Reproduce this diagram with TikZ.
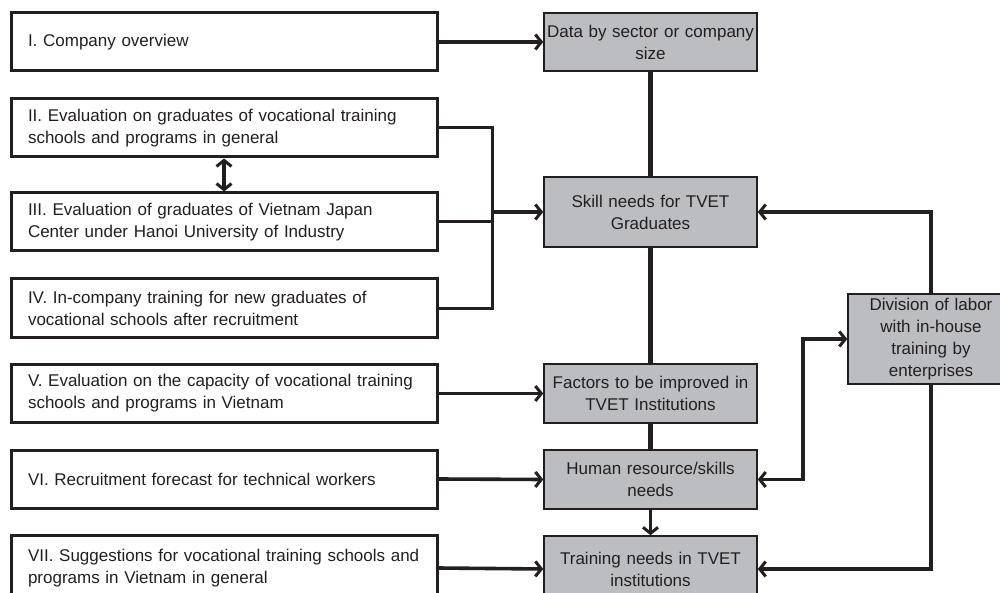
\documentclass[tikz,border=0pt]{standalone}
\usepackage{fontspec}
\setmainfont{Liberation Sans}
\usetikzlibrary{arrows.meta,calc}
\definecolor{ink}{HTML}{231F20}
\definecolor{boxgray}{HTML}{BCBDC0}
\begin{document}
\begin{tikzpicture}[x=1pt,y=-1pt,
  every node/.style={font=\fontsize{17}{22}\selectfont, text=ink},
  wbox/.style={draw=ink, line width=3pt, fill=white, minimum width=426, minimum height=58,
    text width=392, inner xsep=17, inner ysep=0, align=left},
  gbox/.style={draw=ink, line width=1.5pt, fill=boxgray, minimum width=213, minimum height=58,
    text width=212, inner xsep=0.5, inner ysep=0, align=center},
  barb/.tip={Straight Barb[length=6pt,width=15pt,line width=3pt]},
  conn/.style={draw=ink, line width=3.6pt, -barb},
  dconn/.style={draw=ink, line width=3.6pt, barb-barb},
  bus/.style={draw=ink, line width=3pt},
  vline/.style={draw=ink, line width=4.5pt}
]
\useasboundingbox (0,0) rectangle (1000,593);
% left boxes
\node[wbox] (I)   at (224,42)    {I. Company overview};
\node[wbox] (II)  at (224,128)   {II. Evaluation on graduates of vocational training\\schools and programs in general};
\node[wbox] (III) at (224,222)   {III. Evaluation of graduates of Vietnam Japan\\Center under Hanoi University of Industry};
\node[wbox] (IV)  at (224,308)   {IV. In-company training for new graduates of\\vocational schools after recruitment};
\node[wbox] (V)   at (224,393.5) {V. Evaluation on the capacity of vocational training\\schools and programs in Vietnam};
\node[wbox] (VI)  at (224,479)   {VI. Recruitment forecast for technical workers};
\node[wbox, minimum height=66] (VII) at (224,568) {VII. Suggestions for vocational training schools and\\programs in Vietnam in general};
% gray boxes
\node[gbox] (Data) at (650.5,42) {Data by sector or company\\size};
\node[gbox, minimum height=70] (Skill) at (650.5,212) {Skill needs for TVET\\Graduates};
\node[gbox, minimum height=59] (Fac) at (650.5,393.5) {Factors to be improved in\\TVET Institutions};
\node[gbox, minimum height=59] (Hum) at (650.5,479.5) {Human resource/skills\\needs};
\node[gbox, minimum height=66] (Tr) at (650.5,569) {Training needs in TVET\\institutions};
\node[gbox, minimum width=166, minimum height=90, text width=160, inner xsep=3] (Div) at (931,339) {Division of labor\\with in-house\\training by\\enterprises};
% connectors
\coordinate (bj) at (492,212);
\coordinate (hd) at (803,339);
\draw[conn] (I.east) -- (Data.west);
\draw[bus] (II.east) -| (bj) |- (IV.east);
\draw[bus] (III.east) -- (III.east -| bj);
\draw[conn] (bj) -- (Skill.west);
\draw[dconn] (II.south) -- (III.north);
\draw[vline] (Data.south) -- (Skill.north);
\draw[vline] (Skill.south) -- (Fac.north);
\draw[vline] (Fac.south) -- (Hum.north);
\draw[conn] (Hum.south) -- (Tr.north);
\draw[conn] (V.east) -- (Fac.west);
\draw[conn] (VI.east) -- (Hum.west);
\draw[conn] (VII.east) -- (Tr.west);
\draw[conn] (Div.north) |- (Skill.east);
\draw[conn] (Div.south) |- (Tr.east);
\draw[dconn] (Hum.east) -| (hd) -- (Div.west);
\end{tikzpicture}
\end{document}
